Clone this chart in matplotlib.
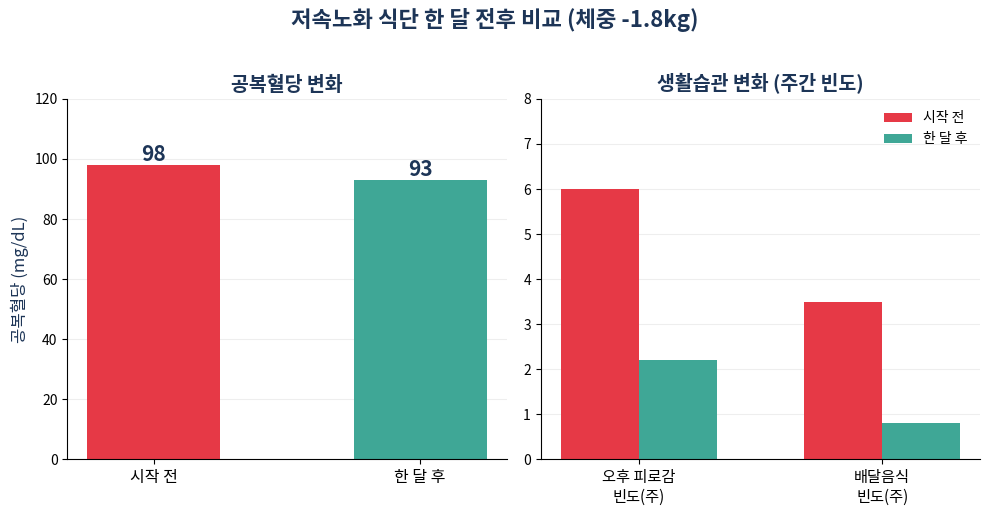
import matplotlib.pyplot as plt
import numpy as np

plt.rcParams['font.family'] = ['Noto Sans CJK KR', 'DejaVu Sans']

# 공복혈당 데이터
glucose_labels = ['시작 전', '한 달 후']
glucose_values = [98, 93]

# 생활습관 데이터
habit_labels = ['오후 피로감\n빈도(주)', '배달음식\n빈도(주)']
before_values = [6.0, 3.5]
after_values = [2.2, 0.8]

red = '#e63946'
teal = '#3fa796'
navy = '#1d3557'

fig, (ax1, ax2) = plt.subplots(1, 2, figsize=(9.9, 5.15), dpi=100)
fig.subplots_adjust(left=0.068, right=0.99, top=0.808, bottom=0.108, wspace=0.077)

# 왼쪽: 공복혈당
bars = ax1.bar(glucose_labels, glucose_values, width=0.5, color=[red, teal], zorder=2)
for b, v in zip(bars, glucose_values):
    ax1.text(b.get_x() + b.get_width() / 2, v, str(v), ha='center', va='bottom',
             fontsize=15, fontweight='bold', color=navy)
ax1.set_ylim(0, 120)
ax1.set_title('공복혈당 변화', fontsize=14, fontweight='bold', color=navy, pad=6)
ax1.set_ylabel('공복혈당 (mg/dL)', fontsize=12, color=navy)
ax1.tick_params(axis='x', labelsize=11.5)
ax1.tick_params(axis='y', labelsize=10)

# 오른쪽: 생활습관
x = np.arange(len(habit_labels))
w = 0.32
ax2.bar(x - w / 2, before_values, w, color=red, label='시작 전', zorder=2)
ax2.bar(x + w / 2, after_values, w, color=teal, label='한 달 후', zorder=2)
ax2.set_xticks(x)
ax2.set_xticklabels(habit_labels, fontsize=11)
ax2.set_ylim(0, 8)
ax2.set_title('생활습관 변화 (주간 빈도)', fontsize=14, fontweight='bold', color=navy, pad=6)
ax2.tick_params(axis='y', labelsize=10)
ax2.legend(frameon=False, loc='upper right', fontsize=10)

for ax in (ax1, ax2):
    ax.spines['top'].set_visible(False)
    ax.spines['right'].set_visible(False)
    ax.grid(axis='y', color='#eeeeee', linewidth=0.8, zorder=0)
    ax.set_axisbelow(True)

fig.suptitle('저속노화 식단 한 달 전후 비교 (체중 -1.8kg)', fontsize=16,
             fontweight='bold', color=navy, y=0.985)

fig.savefig('out.png', dpi=100)
